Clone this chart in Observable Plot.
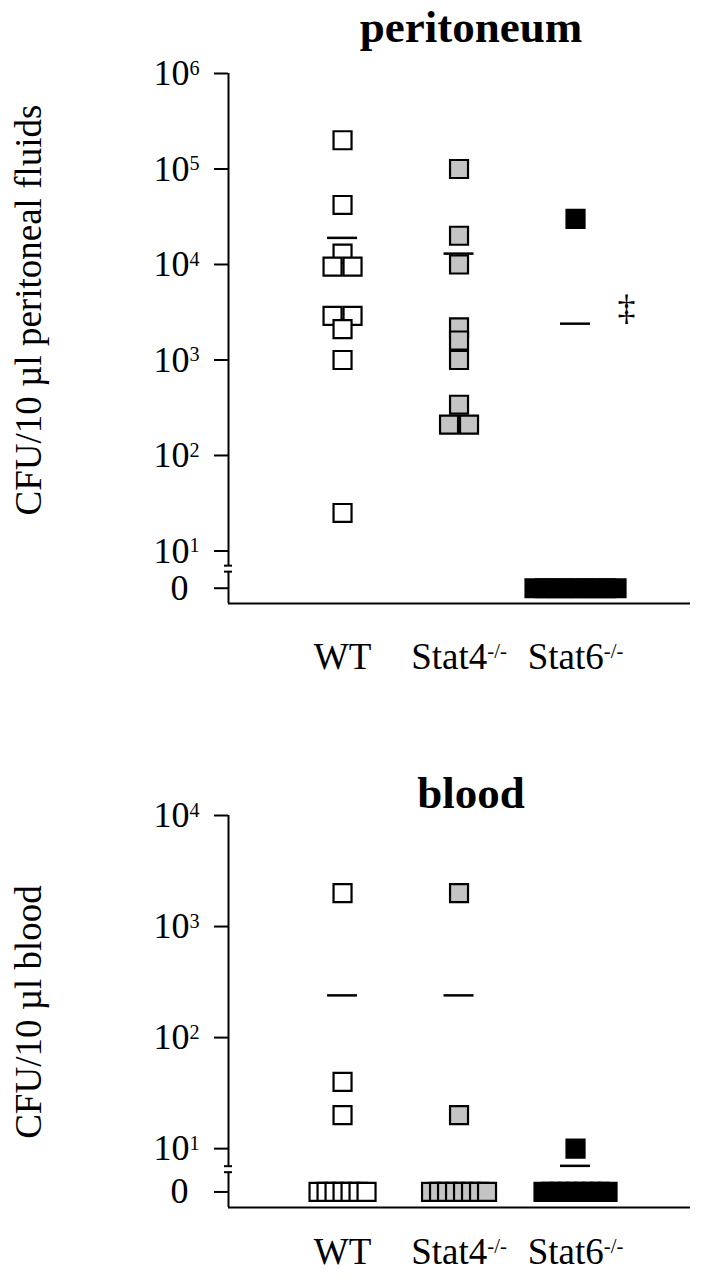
<!DOCTYPE html>
<html><head><meta charset="utf-8">
<script src="https://cdn.jsdelivr.net/npm/d3@7"></script>
<script src="https://cdn.jsdelivr.net/npm/@observablehq/plot@0.6"></script>
<style>
body{margin:0;background:#fff;}
#chart{width:705px;}
#chart svg{display:block;background:#fff;}
</style>
</head><body><div id="chart"></div>
<script>
// ---- data ----
const categories = ["WT", "Stat4", "Stat6"];
const categoryLabels = ["WT", "Stat4^-/-", "Stat6^-/-"];
const fills = ["#ffffff", "#c4c4c4", "#000000"];

// peritoneum CFU / 10 µl (0 = below detection)
const periWT    = [200000, 42000, 13000, 9500, 9500, 2900, 2900, 2100, 1000, 25];
const periStat4 = [100000, 20000, 10000, 2200, 1600, 1000, 340, 210, 210];
const periStat6 = [30000, 0, 0, 0, 0, 0, 0, 0, 0, 0];
const periMeans = [19000, 13000, 2400];
const periNotes = ["", "", "‡"];

// blood CFU / 10 µl
const bloodWT    = [2000, 40, 20, 0, 0, 0, 0, 0, 0, 0];
const bloodStat4 = [2000, 20, 0, 0, 0, 0, 0, 0, 0, 0];
const bloodStat6 = [10, 0, 0, 0, 0, 0, 0, 0, 0, 0];
const bloodMeans = [240, 240, 7];

const ZERO = 0.61;   // position of "0" on the broken log axis
const FONT = "'Liberation Serif','Times New Roman',Times,serif";

function pos(v) { return v === 0 ? ZERO : Math.log10(v); }

function superscript(sel, zeroShift) {
  sel.each(function() {
    const t = d3.select(this);
    const s = t.text();
    if (s.includes("^")) {
      const [b, e] = s.split("^");
      t.text(null);
      t.append("tspan").text(b);
      t.append("tspan").attr("dy", "-0.52em").attr("font-size", "0.56em").text(e);
    } else if (zeroShift) {
      t.attr("dx", -zeroShift);
    }
  });
}

function panel({groups, means, notes, height, marginTop, marginBottom, yMax, yMin, groupStep, xPad, title, titleY, ylabel, ylabelY}) {
  const xDomain = [-0.979, 2.987];
  const marginLeft = 228, marginRight = 15;
  const PXU = (705 - marginLeft - marginRight) / (xDomain[1] - xDomain[0]);
  const pxPerDec = (height - marginTop - marginBottom) / (yMax - yMin);

  const rows = [];
  groups.forEach((vals, i) => {
    const sorted = vals.slice().sort((a, b) => b - a);
    const counts = d3.rollup(sorted, v => v.length, d => d);
    const seen = new Map();
    for (const v of sorted) {
      const n = counts.get(v);
      const k = seen.get(v) || 0; seen.set(v, k + 1);
      const step = n <= 2 ? 20 : groupStep;
      const off = (k - (n - 1) / 2) * step;
      rows.push({cat: categories[i], i, value: v, y: pos(v), x: i + off / PXU, fill: fills[i]});
    }
  });
  const meanRows = means.map((m, i) => ({i, y: pos(m), note: notes ? notes[i] : ""}));

  const brk = 0.815, half = 3 / pxPerDec;
  const yTicks = [ZERO, ...d3.range(1, yMax + 1)];

  const svg = Plot.plot({
    width: 705, height, marginTop, marginBottom, marginLeft, marginRight,
    style: {fontFamily: FONT, background: "#fff", color: "#000"},
    x: {type: "linear", domain: xDomain, axis: null},
    y: {type: "linear", domain: [yMin, yMax], axis: null},
    color: {type: "identity"},
    marks: [
      Plot.axisY({ticks: yTicks, tickSize: 14, tickPadding: 15, strokeWidth: 2,
        tickFormat: d => d === ZERO ? "0" : "10^" + d, fontSize: 36, label: null}),
      Plot.axisX({ticks: [0, 1, 2], tickSize: 0, tickPadding: xPad,
        tickFormat: d => categoryLabels[d], fontSize: 37, label: null}),
      Plot.ruleY([yMin], {stroke: "#000", strokeWidth: 2}),
      Plot.ruleX([xDomain[0]], {y1: yMin, y2: brk - half, stroke: "#000", strokeWidth: 2}),
      Plot.ruleX([xDomain[0]], {y1: brk + half, y2: yMax, stroke: "#000", strokeWidth: 2}),
      Plot.ruleY([brk - half, brk + half], {x1: xDomain[0] - 4 / PXU, x2: xDomain[0] + 4 / PXU, stroke: "#000", strokeWidth: 2}),
      Plot.dot(rows, {x: "x", y: "y", symbol: "square", r: 10.15, fill: "fill", stroke: "#000", strokeWidth: 2.2}),
      Plot.ruleY(meanRows, {y: "y", x1: d => d.i - 15 / PXU, x2: d => d.i + 15 / PXU, stroke: "#000", strokeWidth: 2.5}),
      Plot.text(meanRows, {x: "i", y: "y", text: "note", dx: 51, dy: -15, fontSize: 36, fill: "#000"})
    ]
  });
  const s = d3.select(svg);
  superscript(s.selectAll('g[aria-label="y-axis tick label"] text'), 11);
  superscript(s.selectAll('g[aria-label="x-axis tick label"] text'), 0);
  s.append("text").attr("x", 471).attr("y", titleY).attr("text-anchor", "middle")
    .attr("font-family", FONT).attr("font-weight", "bold").attr("font-size", 45).text(title);
  s.append("text").attr("transform", `translate(41,${ylabelY}) rotate(-90)`).attr("text-anchor", "middle")
    .attr("font-family", FONT).attr("font-size", 37).text(ylabel);
  return svg;
}

const root = document.getElementById("chart");
root.appendChild(panel({
  groups: [periWT, periStat4, periStat6], means: periMeans, notes: periNotes,
  height: 700, marginTop: 73, marginBottom: 97, yMax: 6, yMin: 0.45, groupStep: 10.25, xPad: 39,
  title: "peritoneum", titleY: 42, ylabel: "CFU/10 µl peritoneal fluids", ylabelY: 310
}));
root.appendChild(panel({
  groups: [bloodWT, bloodStat4, bloodStat6], means: bloodMeans, notes: null,
  height: 580, marginTop: 115, marginBottom: 73, yMax: 4, yMin: 0.47, groupStep: 8, xPad: 30,
  title: "blood", titleY: 108, ylabel: "CFU/10 µl blood", ylabelY: 312
}));
</script>
</body></html>
